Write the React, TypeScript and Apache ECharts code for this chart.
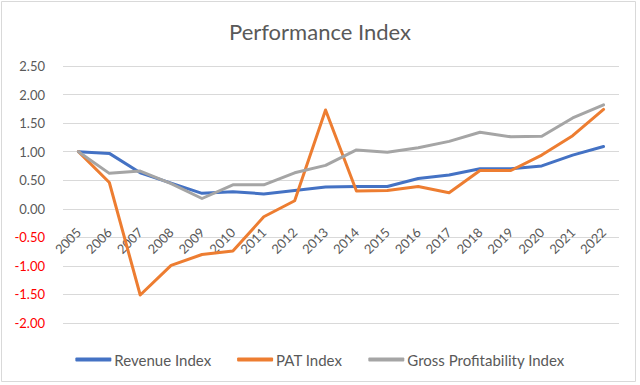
import React, { useEffect, useRef } from "react";
import * as echarts from "echarts";

const years = ["2005","2006","2007","2008","2009","2010","2011","2012","2013","2014","2015","2016","2017","2018","2019","2020","2021","2022"];
const revenueIndex = [1.0, 0.97, 0.63, 0.45, 0.27, 0.3, 0.26, 0.32, 0.38, 0.39, 0.39, 0.53, 0.59, 0.7, 0.7, 0.75, 0.94, 1.09];
const patIndex = [1.0, 0.46, -1.51, -0.99, -0.8, -0.74, -0.14, 0.14, 1.73, 0.31, 0.32, 0.39, 0.28, 0.67, 0.67, 0.94, 1.28, 1.74];
const grossIndex = [1.0, 0.62, 0.66, 0.44, 0.18, 0.42, 0.42, 0.63, 0.76, 1.03, 0.99, 1.07, 1.18, 1.34, 1.26, 1.27, 1.59, 1.82];

const FONT = "Lato, 'Open Sans', sans-serif";
const TXT = "#595959";

export default function App() {
  const ref = useRef<HTMLDivElement>(null);
  useEffect(() => {
    document.body.style.margin = "0";
    const chart = echarts.init(ref.current!, null, { renderer: "svg" });
    const mk = (name: string, data: number[], color: string) => ({
      name,
      type: "line",
      data,
      showSymbol: false,
      symbol: "none",
      lineStyle: { color, width: 3, cap: "round", join: "round" },
      itemStyle: { color },
    });
    chart.setOption({
      animation: false,
      backgroundColor: "#ffffff",
      textStyle: { fontFamily: FONT },
      title: {
        text: "Performance Index",
        left: "center",
        top: 15,
        textStyle: { fontFamily: FONT, fontSize: 22, fontWeight: "normal", color: TXT },
      },
      grid: { left: 63, right: 21, top: 66, bottom: 62, containLabel: false },
      legend: {
        top: 347,
        left: "center",
        icon: "roundRect",
        itemWidth: 36,
        itemHeight: 4,
        itemGap: 26,
        textStyle: { fontFamily: FONT, fontSize: 15, color: TXT, padding: [0, 0, 0, -2] },
        data: ["Revenue Index", "PAT Index", "Gross Profitability Index"],
      },
      xAxis: {
        type: "category",
        data: years,
        boundaryGap: true,
        axisLine: { show: false, onZero: false },
        axisTick: { show: false },
        axisLabel: {
          rotate: 45,
          margin: -93,
          interval: 0,
          fontFamily: FONT,
          fontSize: 13,
          color: TXT,
        },
      },
      yAxis: {
        type: "value",
        min: -2,
        max: 2.5,
        interval: 0.5,
        axisLine: { show: false },
        axisTick: { show: false },
        splitLine: { lineStyle: { color: "#d9d9d9", width: 1 } },
        axisLabel: {
          margin: 18,
          fontFamily: FONT,
          fontSize: 13,
          formatter: (v: number) => v.toFixed(2),
          color: (v: any) => (Number(v) < 0 ? "#ff0000" : TXT),
        },
      },
      graphic: [
        {
          type: "rect",
          shape: { x: 1.5, y: 1.5, width: 634, height: 380 },
          style: { fill: "none", stroke: "#d9d9d9", lineWidth: 1 },
          silent: true,
          z: -1,
        },
      ],
      series: [
        mk("Revenue Index", revenueIndex, "#4472C4"),
        mk("PAT Index", patIndex, "#ED7D31"),
        mk("Gross Profitability Index", grossIndex, "#A5A5A5"),
      ],
    });
    return () => chart.dispose();
  }, []);
  return <div ref={ref} style={{ width: 640, height: 385 }} />;
}
